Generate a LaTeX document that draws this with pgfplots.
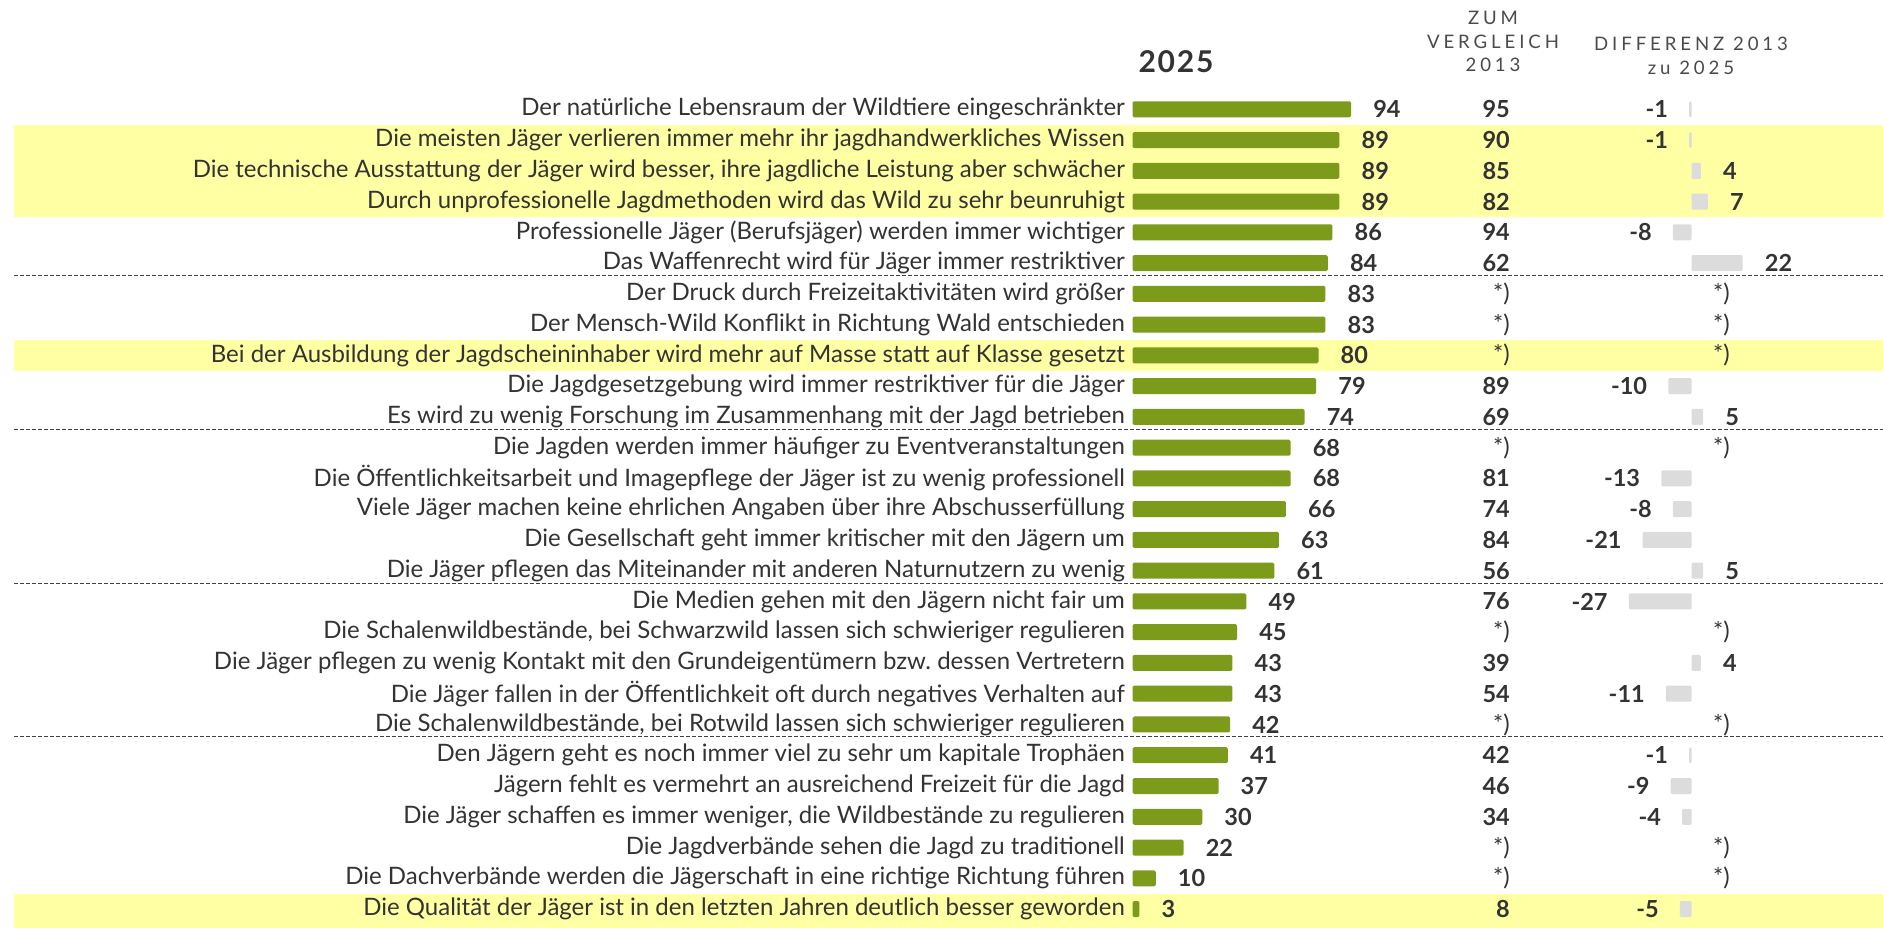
\documentclass[border=0pt]{standalone}
\usepackage{fontspec}
\setmainfont{Lato}
\newfontfamily\hdrfont[LetterSpace=21]{Lato}
\newfontfamily\yearfont[LetterSpace=6]{Lato}
\usepackage{pgfplots}
\usepackage{pgfplotstable}
\pgfplotsset{compat=1.18}
\frenchspacing
\definecolor{barg}{HTML}{7C9B1A}
\definecolor{barn}{HTML}{DCDCDC}
\definecolor{hl}{HTML}{FFFFA3}
\definecolor{txt}{HTML}{333333}
\definecolor{hdr}{HTML}{4A4A4A}
\newcommand\lblfont{\fontsize{24bp}{26bp}\selectfont}
\newcommand\valfont{\fontsize{23.5bp}{26bp}\selectfont\bfseries}
\newcommand\hfont{\hdrfont\fontsize{18.6bp}{21bp}\selectfont}

\pgfplotstableread[col sep=semicolon]{
row;v;label
1;94;Der natürliche Lebensraum der Wildtiere eingeschränkter
2;89;Die meisten Jäger verlieren immer mehr ihr jagdhandwerkliches Wissen
3;89;Die technische Ausstattung der Jäger wird besser, ihre jagdliche Leistung aber schwächer
4;89;Durch unprofessionelle Jagdmethoden wird das Wild zu sehr beunruhigt
5;86;Professionelle Jäger (Berufsjäger) werden immer wichtiger
6;84;Das Waffenrecht wird für Jäger immer restriktiver
7;83;Der Druck durch Freizeitaktivitäten wird größer
8;83;Der Mensch-Wild Konflikt in Richtung Wald entschieden
9;80;Bei der Ausbildung der Jagdscheininhaber wird mehr auf Masse statt auf Klasse gesetzt
10;79;Die Jagdgesetzgebung wird immer restriktiver für die Jäger
11;74;Es wird zu wenig Forschung im Zusammenhang mit der Jagd betrieben
12;68;Die Jagden werden immer häufiger zu Eventveranstaltungen
13;68;Die Öffentlichkeitsarbeit und Imagepflege der Jäger ist zu wenig professionell
14;66;Viele Jäger machen keine ehrlichen Angaben über ihre Abschusserfüllung
15;63;Die Gesellschaft geht immer kritischer mit den Jägern um
16;61;Die Jäger pflegen das Miteinander mit anderen Naturnutzern zu wenig
17;49;Die Medien gehen mit den Jägern nicht fair um
18;45;Die Schalenwildbestände, bei Schwarzwild lassen sich schwieriger regulieren
19;43;Die Jäger pflegen zu wenig Kontakt mit den Grundeigentümern bzw. dessen Vertretern
20;43;Die Jäger fallen in der Öffentlichkeit oft durch negatives Verhalten auf
21;42;Die Schalenwildbestände, bei Rotwild lassen sich schwieriger regulieren
22;41;Den Jägern geht es noch immer viel zu sehr um kapitale Trophäen
23;37;Jägern fehlt es vermehrt an ausreichend Freizeit für die Jagd
24;30;Die Jäger schaffen es immer weniger, die Wildbestände zu regulieren
25;22;Die Jagdverbände sehen die Jagd zu traditionell
26;10;Die Dachverbände werden die Jägerschaft in eine richtige Richtung führen
27;3;Die Qualität der Jäger ist in den letzten Jahren deutlich besser geworden
}\maindata

\pgfplotstableread{
row old d
1 95 -1
2 90 -1
3 85 4
4 82 7
5 94 -8
6 62 22
10 89 -10
11 69 5
13 81 -13
14 74 -8
15 84 -21
16 56 5
17 76 -27
19 39 4
20 54 -11
22 42 -1
23 46 -9
24 34 -4
27 8 -5
}\cmpdata

\pgfplotstableread{
row
7
8
9
12
18
21
25
26
}\stardata

\begin{document}
\begin{tikzpicture}[x=1bp,y=1bp]
\path (0,0) rectangle (1883,929);
% highlighted rows
\fill[hl] (14,{929-109.3-0.5*30.76}) rectangle (1883,{929-109.3-3.5*30.76});
\fill[hl] (14,{929-109.3-7.5*30.76}) rectangle (1883,{929-109.3-8.5*30.76});
\fill[hl] (14,{929-109.3-25.5*30.76}) rectangle (1883,{929-109.3-26.6*30.76});
% separators
\foreach \r in {6,11,16,21}{
  \draw[black!75, line width=0.9bp, dash pattern=on 3.5bp off 2.5bp]
    (14,{929-109.3-(\r-1+0.4)*30.76}) -- (1883,{929-109.3-(\r-1+0.4)*30.76});
}
% headers
\node[text=txt, font=\yearfont\bfseries\fontsize{30bp}{33bp}\selectfont] at (1176,{929-62}) {2025};
\node[text=hdr, font=\hfont] at (1493,{929-18}) {ZUM};
\node[text=hdr, font=\hfont] at (1493,{929-41.5}) {VERGLEICH};
\node[text=hdr, font=\hfont] at (1493,{929-65}) {2013};
\node[text=hdr, font=\hfont] at (1691,{929-44}) {DIFFERENZ 2013};
\node[text=hdr, font=\hfont] at (1691,{929-68}) {zu 2025};

\begin{axis}[
  at={(0,0)}, anchor=south west,
  scale only axis, width=1883bp, height=929bp,
  xmin=-487.10, xmax=322.80,
  ymin=-2.553, ymax=27.649, y dir=reverse,
  hide axis, clip=false,
  /pgf/number format/assume math mode=true,
]
% labels
\addplot[draw=none, mark=none, nodes near coords={\pgfplotspointmeta},
  point meta=explicit symbolic,
  nodes near coords style={anchor=east, inner sep=0pt, font=\lblfont, text=txt}]
  table[x expr=-3.23, y=row, meta=label] {\maindata};
% 2025 bars
\addplot[xbar, bar width=0.52, fill=barg, draw=none, rounded corners=1.5bp,
  point meta=x, nodes near coords={\pgfmathprintnumber{\pgfplotspointmeta}},
  nodes near coords style={anchor=west, xshift=22bp, inner sep=0pt, font=\valfont, text=txt}]
  table[x=v, y=row] {\maindata};
% 2013 values
\addplot[draw=none, mark=none, point meta=explicit,
  nodes near coords={\pgfmathprintnumber{\pgfplotspointmeta}},
  nodes near coords style={anchor=east, inner sep=0pt, font=\valfont, text=txt}]
  table[x expr=162.37, y=row, meta=old] {\cmpdata};
\addplot[draw=none, mark=none, nodes near coords={*)},
  nodes near coords style={anchor=east, inner sep=0pt, font=\lblfont, text=txt}]
  table[x expr=162.37, y=row] {\stardata};
\end{axis}

\begin{axis}[
  at={(0,0)}, anchor=south west,
  scale only axis, width=1883bp, height=929bp,
  xmin=-727.53, xmax=82.37,
  ymin=-2.553, ymax=27.649, y dir=reverse,
  hide axis, clip=false,
  /pgf/number format/assume math mode=true,
]
\addplot[xbar, bar width=0.52, fill=barn, draw=none, rounded corners=1.2bp,
  restrict x to domain=-100:-0.5,
  point meta=x, nodes near coords={\pgfmathprintnumber{\pgfplotspointmeta}},
  nodes near coords style={anchor=east, xshift=-21bp, inner sep=0pt, font=\valfont, text=txt}]
  table[x=d, y=row] {\cmpdata};
\addplot[xbar, bar width=0.52, fill=barn, draw=none, rounded corners=1.2bp,
  restrict x to domain=0.5:100,
  point meta=x, nodes near coords={\pgfmathprintnumber{\pgfplotspointmeta}},
  nodes near coords style={anchor=west, xshift=22bp, inner sep=0pt, font=\valfont, text=txt}]
  table[x=d, y=row] {\cmpdata};
\addplot[draw=none, mark=none, nodes near coords={*)},
  nodes near coords style={anchor=east, inner sep=0pt, font=\lblfont, text=txt}]
  table[x expr=16.56, y=row] {\stardata};
\end{axis}
\pgfresetboundingbox
\path[use as bounding box] (0,0) rectangle (1883,929);
\end{tikzpicture}
\end{document}
